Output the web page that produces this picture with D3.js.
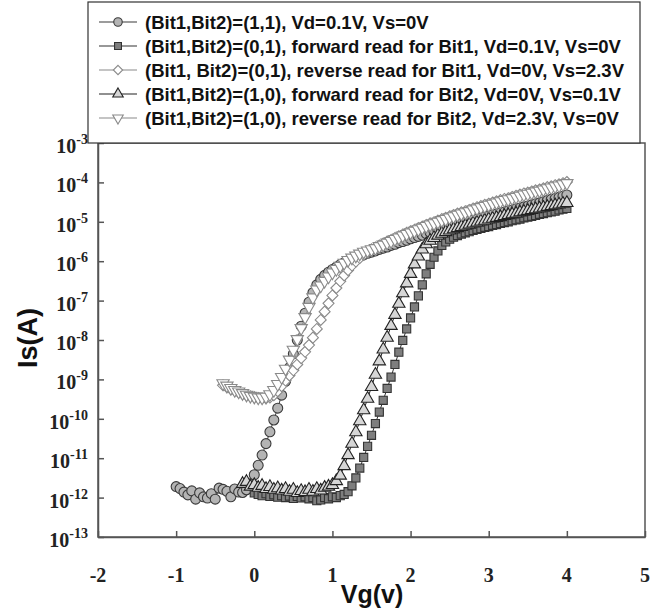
<!DOCTYPE html>
<html><head><meta charset="utf-8">
<script src="https://cdn.jsdelivr.net/npm/d3@7"></script>
<style>body{margin:0;background:#fff}svg{display:block}</style>
</head><body>
<svg id="c" width="660" height="611"></svg>
<script>
// ---- data (log10 of Is in A), Vg sweep step 0.05 V ----
const vgStep = 0.05;
const seriesNames = [
  "(Bit1,Bit2)=(1,1), Vd=0.1V, Vs=0V",
  "(Bit1,Bit2)=(0,1), forward read for Bit1, Vd=0.1V, Vs=0V",
  "(Bit1, Bit2)=(0,1), reverse read for Bit1, Vd=0V, Vs=2.3V",
  "(Bit1,Bit2)=(1,0), forward read for Bit2, Vd=0V, Vs=0.1V",
  "(Bit1,Bit2)=(1,0), reverse read for Bit2, Vd=2.3V, Vs=0V"
];
const startVg = [-1.0, 0.0, -0.4, -0.15, -0.4];
const logIs11 = [-11.72,-11.77,-11.86,-11.93,-11.83,-12.04,-11.88,-11.98,-12.01,-11.90,-12.04,-11.76,-11.79,-11.84,-11.98,-11.78,-11.86,-11.87,-11.80,-11.65,
 -11.42,-11.18,-10.92,-10.63,-10.33,-10.03,-9.73,-9.40,-9.05,-8.70,-8.35,-8.00,-7.65,-7.32,-7.04,-6.80,-6.60,-6.46,-6.36,-6.28,
 -6.21,-6.15,-6.09,-6.04,-5.99,-5.95,-5.91,-5.87,-5.84,-5.80,-5.77,-5.74,-5.70,-5.67,-5.64,-5.60,-5.57,-5.53,-5.50,-5.47,
 -5.43,-5.40,-5.37,-5.34,-5.30,-5.27,-5.24,-5.21,-5.18,-5.15,-5.12,-5.09,-5.06,-5.04,-5.01,-4.98,-4.95,-4.93,-4.90,-4.87,
 -4.85,-4.82,-4.80,-4.77,-4.75,-4.72,-4.70,-4.67,-4.65,-4.62,-4.60,-4.57,-4.54,-4.52,-4.49,-4.46,-4.43,-4.41,-4.38,-4.35,-4.32];
const logIs01Fwd = [-11.88,-11.92,-11.95,-11.90,-11.97,-11.93,-11.99,-11.95,-12.00,-11.96,-12.02,-11.97,-12.01,-11.98,-12.03,-12.00,-12.08,-12.06,-12.00,-12.03,
 -11.98,-12.00,-11.95,-11.92,-11.85,-11.70,-11.50,-11.25,-10.98,-10.70,-10.42,-10.12,-9.83,-9.53,-9.23,-8.94,-8.62,-8.31,-8.01,-7.72,
 -7.44,-7.16,-6.88,-6.60,-6.32,-6.08,-5.90,-5.74,-5.60,-5.51,-5.44,-5.39,-5.35,-5.31,-5.28,-5.25,-5.22,-5.19,-5.17,-5.14,
 -5.12,-5.09,-5.07,-5.04,-5.02,-5.00,-4.97,-4.95,-4.93,-4.90,-4.88,-4.86,-4.84,-4.81,-4.79,-4.77,-4.75,-4.73,-4.70,-4.68,-4.66];
const logIs01Rev = [-9.15,-9.20,-9.25,-9.29,-9.33,-9.37,-9.40,-9.43,-9.45,-9.47,-9.48,-9.48,-9.46,-9.40,-9.30,-9.17,-9.03,-8.90,-8.77,-8.62,
 -8.46,-8.30,-8.13,-7.94,-7.72,-7.49,-7.28,-7.07,-6.87,-6.68,-6.51,-6.36,-6.23,-6.11,-6.01,-5.92,-5.84,-5.77,-5.70,-5.65,
 -5.60,-5.55,-5.50,-5.46,-5.41,-5.37,-5.32,-5.28,-5.24,-5.20,-5.16,-5.12,-5.08,-5.04,-5.01,-4.97,-4.93,-4.90,-4.86,-4.83,
 -4.79,-4.76,-4.73,-4.70,-4.66,-4.63,-4.60,-4.57,-4.54,-4.51,-4.48,-4.45,-4.42,-4.40,-4.37,-4.34,-4.31,-4.28,-4.26,-4.23,
 -4.20,-4.18,-4.15,-4.12,-4.10,-4.07,-4.05,-4.02,-3.99];
const logIs10Fwd = [-11.65,-11.60,-11.72,-11.68,-11.75,-11.70,-11.78,-11.73,-11.80,-11.76,-11.82,-11.78,-11.85,-11.80,-11.88,-11.83,-11.86,-11.80,-11.85,-11.78,
 -11.82,-11.75,-11.72,-11.68,-11.58,-11.44,-11.20,-10.92,-10.63,-10.34,-10.06,-9.78,-9.49,-9.19,-8.88,-8.54,-8.24,-7.94,-7.64,-7.36,
 -7.08,-6.81,-6.56,-6.32,-6.08,-5.88,-5.70,-5.57,-5.48,-5.41,-5.35,-5.30,-5.26,-5.22,-5.19,-5.16,-5.13,-5.10,-5.07,-5.04,
 -5.02,-4.99,-4.97,-4.94,-4.92,-4.90,-4.88,-4.85,-4.83,-4.81,-4.79,-4.76,-4.74,-4.72,-4.70,-4.68,-4.66,-4.64,-4.62,-4.60,
 -4.58,-4.56,-4.54,-4.52];
const logIs10Rev = [-9.10,-9.16,-9.22,-9.27,-9.31,-9.35,-9.39,-9.42,-9.44,-9.46,-9.46,-9.44,-9.38,-9.27,-9.12,-8.94,-8.73,-8.50,-8.25,-7.98,
 -7.70,-7.42,-7.16,-6.92,-6.72,-6.62,-6.50,-6.39,-6.29,-6.20,-6.12,-6.04,-5.97,-5.91,-5.86,-5.81,-5.76,-5.73,-5.70,-5.67,
 -5.62,-5.58,-5.53,-5.49,-5.44,-5.40,-5.35,-5.31,-5.27,-5.23,-5.19,-5.15,-5.11,-5.07,-5.04,-5.00,-4.96,-4.93,-4.89,-4.86,
 -4.82,-4.79,-4.76,-4.73,-4.69,-4.66,-4.63,-4.60,-4.57,-4.54,-4.51,-4.48,-4.45,-4.43,-4.40,-4.37,-4.34,-4.31,-4.29,-4.26,
 -4.23,-4.21,-4.18,-4.15,-4.13,-4.10,-4.08,-4.05,-4.02];
const seriesLog = [logIs11, logIs01Fwd, logIs01Rev, logIs10Fwd, logIs10Rev];
const xTicks = [-2,-1,0,1,2,3,4,5];
const yTickExp = [-3,-4,-5,-6,-7,-8,-9,-10,-11,-12,-13];

// ---- styles ----
const styles = [
  {sym: d3.symbolCircle, size: 78, fill: "#b4b4b4", stroke: "#3a3a3a", line: "#3a3a3a"},
  {sym: d3.symbolSquare, size: 66, fill: "#7e7e7e", stroke: "#333", line: "#333"},
  {sym: "diamond", size: 10, fill: "#fff", stroke: "#8a8a8a", line: "#8a8a8a"},
  {sym: d3.symbolTriangle, size: 66, fill: "#d6d6d6", stroke: "#222", line: "#222"},
  {sym: "invtri", size: 66, fill: "#fff", stroke: "#8a8a8a", line: "#8a8a8a"}
];
const legendScale = 0.85;

const svg = d3.select("#c");
const x = d3.scaleLinear().domain([-2,5]).range([98,645]);
const y = d3.scaleLog().domain([1e-13,1e-3]).range([537,143]);

function markerPath(st, k){
  k = k || 1;
  if (st.sym === "diamond") {
    const r = (st.size/2 + 0.5)*k;
    return `M0,${-r}L${r},0L0,${r}L${-r},0Z`;
  }
  if (st.sym === "invtri") {
    return d3.symbol(d3.symbolTriangle, st.size*k*k)().replace(/(-?\d+\.?\d*(?:e-?\d+)?),(-?\d+\.?\d*(?:e-?\d+)?)/g,(m,a,b)=>`${a},${-b}`);
  }
  return d3.symbol(st.sym, st.size*k*k)();
}

// frame
const axisColor = "#555";
svg.append("rect").attr("x",98).attr("y",143).attr("width",547).attr("height",394)
  .attr("fill","none").attr("stroke",axisColor).attr("stroke-width",1.5);

// axes (ticks inward)
const gx = svg.append("g").attr("transform","translate(0,537)")
  .call(d3.axisBottom(x).tickValues(xTicks).tickSizeInner(-6).tickSizeOuter(0).tickFormat(""));
const gy = svg.append("g").attr("transform","translate(98,0)")
  .call(d3.axisLeft(y).tickValues(yTickExp.map(e=>Math.pow(10,e))).tickSizeInner(-6).tickSizeOuter(0).tickFormat(""));
[gx,gy].forEach(g=>{g.select(".domain").attr("stroke",axisColor).attr("stroke-width",1.5);
  g.selectAll(".tick line").attr("stroke",axisColor).attr("stroke-width",1.5);});

// series
seriesLog.forEach((arr,i)=>{
  const st = styles[i];
  const pts = arr.map((v,k)=>({vg: startVg[i] + k*vgStep, is: Math.pow(10,v)}));
  const g = svg.append("g");
  g.append("path").datum(pts).attr("fill","none").attr("stroke",st.line).attr("stroke-width",1)
    .attr("d", d3.line().x(d=>x(d.vg)).y(d=>y(d.is)));
  const p = markerPath(st);
  g.selectAll("path.m").data(pts).join("path").attr("class","m")
    .attr("transform",d=>`translate(${x(d.vg)},${y(d.is)})`)
    .attr("d",p).attr("fill",st.fill).attr("stroke",st.stroke).attr("stroke-width",1.1);
});

// legend
svg.append("rect").attr("x",88).attr("y",2).attr("width",552).attr("height",141)
  .attr("fill","#fff").attr("stroke","#333").attr("stroke-width",1.2);
const lg = svg.append("g").selectAll("g").data(seriesNames).join("g")
  .attr("transform",(d,i)=>`translate(0,${22+i*24})`);
lg.append("line").attr("x1",99).attr("x2",137).attr("y1",0).attr("y2",0)
  .attr("stroke",(d,i)=>styles[i].line).attr("stroke-width",1.2);
lg.append("path").attr("transform","translate(118,0)")
  .attr("d",(d,i)=>markerPath(styles[i], legendScale)).attr("fill",(d,i)=>styles[i].fill)
  .attr("stroke",(d,i)=>styles[i].stroke).attr("stroke-width",1.1);
lg.append("text").attr("x",145).attr("y",6.5)
  .attr("font-family","'Liberation Sans',Arial,sans-serif").attr("font-weight","bold")
  .attr("font-size",18.5).attr("fill","#111").text(d=>d);

// x tick labels
svg.append("g").selectAll("text").data(xTicks).join("text")
  .attr("x",d=>x(d)).attr("y",582).attr("text-anchor","middle")
  .attr("font-family","'Liberation Serif','Times New Roman',serif").attr("font-weight","bold")
  .attr("font-size",20).attr("fill","#222").text(d=>d);

// y tick labels with superscript
const yl = svg.append("g").selectAll("text").data(yTickExp).join("text")
  .attr("x",88).attr("y",d=>y(Math.pow(10,d))+10).attr("text-anchor","end")
  .attr("font-family","'Liberation Serif','Times New Roman',serif").attr("font-weight","bold")
  .attr("font-size",20).attr("fill","#222");
yl.append("tspan").text("10");
yl.append("tspan").attr("dy",-9).attr("font-size",14).text(d=>String(d));

// axis titles
svg.append("text").attr("x",372).attr("y",603).attr("text-anchor","middle")
  .attr("font-family","'Liberation Sans',Arial,sans-serif").attr("font-weight","bold")
  .attr("font-size",25).attr("fill","#111").text("Vg(v)");
svg.append("text").attr("transform","translate(37,338) rotate(-90)").attr("text-anchor","middle")
  .attr("font-family","'Liberation Sans',Arial,sans-serif").attr("font-weight","bold")
  .attr("font-size",27).attr("fill","#111").text("Is(A)");
</script>
</body></html>
